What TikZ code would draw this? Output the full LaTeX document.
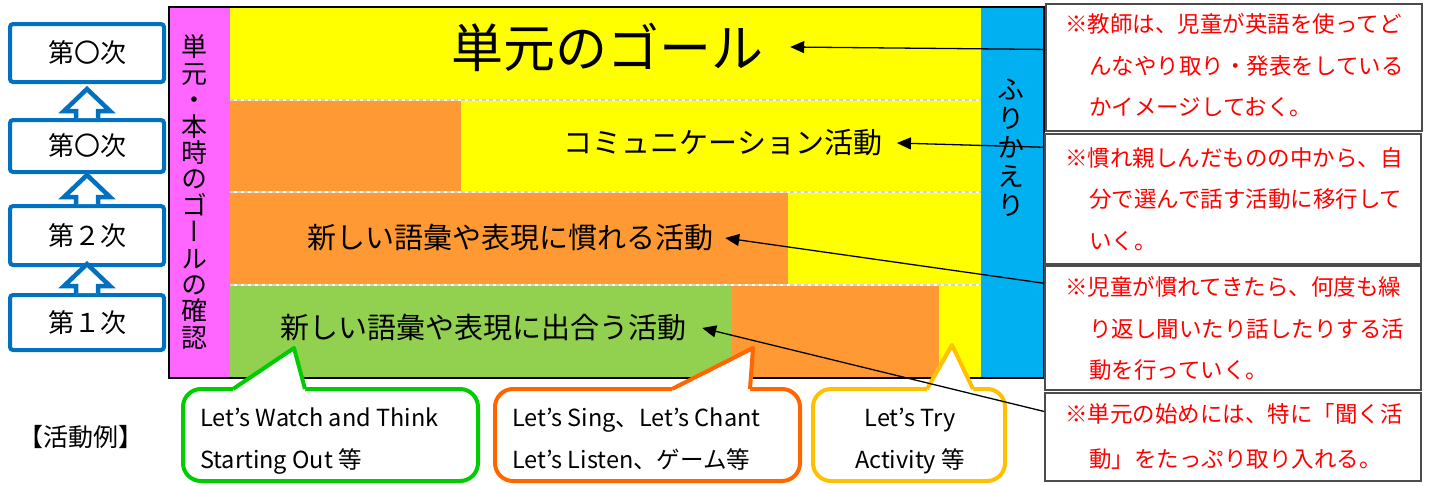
\documentclass[tikz,border=0pt]{standalone}
\usepackage{fontspec}
\newfontfamily\jp{Noto Sans CJK JP}
\newfontfamily\jpv[RawFeature=+vert]{Noto Sans CJK JP}
\usetikzlibrary{arrows.meta,calc}
\definecolor{cyel}{RGB}{255,255,0}
\definecolor{corg}{RGB}{255,153,51}
\definecolor{cgrn}{RGB}{146,208,80}
\definecolor{cmag}{RGB}{255,102,255}
\definecolor{cblu}{RGB}{0,176,240}
\definecolor{cbox}{RGB}{0,112,192}
\definecolor{cgline}{RGB}{0,204,0}
\definecolor{coline}{RGB}{255,102,0}
\definecolor{cyline}{RGB}{255,192,0}
\definecolor{cred}{RGB}{255,0,0}
\newcommand\myblkarrow[1]{%
  \draw[barrow] ($(#1.north)+(-11,0)$) -- ++(0,-7) -- ++(-12,0) -- ++(23,-22) -- ++(23,22) -- ++(-12,0) -- ++(0,7);}
\newcommand\mycallout[9]{%
  % #1 color, #2 x1, #3 y1, #4 x2, #5 y2, #6 base left x, #7 tip x, #8 tip y, #9 base right x
  \draw[calloutbox, draw=#1] (#2,#3) rectangle (#4,#5);
  \fill[white] (#6,#3+4) -- (#6,#3) -- (#7,#8) -- (#9,#3) -- (#9,#3+4) -- cycle;
  \draw[calloutside, draw=#1] (#6,#3) -- (#7,#8) -- (#9,#3);}
\begin{document}
\begin{tikzpicture}[x=1pt,y=-1pt,
  stagebox/.style={draw=cbox, line width=4pt, rounded corners=3pt, fill=white,
    minimum width=154pt, font=\jp\fontsize{26}{26}\selectfont},
  barrow/.style={draw=cbox, line width=4.5pt, fill=white, line join=miter},
  calloutbox/.style={line width=4pt, fill=white, rounded corners=18pt},
  calloutside/.style={line width=4pt, line join=round},
  rowsep/.style={draw=gray!35, line width=2.5pt, dash pattern=on 4pt off 3pt},
  conn/.style={draw=black, line width=1.3pt, -{Triangle[length=14pt,width=12pt]}},
  notebox/.style={draw=black!70, line width=2pt, fill=white, minimum width=376pt},
  notetxt/.style={text=cred, font=\jp\fontsize{22.5}{22.5}\selectfont, inner sep=0pt, anchor=west},
  cotxt/.style={font=\jp\fontsize{23.5}{42}\selectfont, inner sep=0pt},
  acttxt/.style={font=\jp\fontsize{29}{29}\selectfont, inner ysep=3pt}
]
\useasboundingbox (0,0) rectangle (1429,485);
\fill[white] (0,0) rectangle (1429,485);

% left stage boxes
\node[stagebox, minimum height=58pt] (b1) at (87,53) {第〇次};
\node[stagebox, minimum height=52pt] (b2) at (87,146) {第〇次};
\node[stagebox, minimum height=59pt] (b3) at (87,235.5) {第２次};
\node[stagebox, minimum height=55pt] (b4) at (87,322.5) {第１次};
\myblkarrow{b2}
\myblkarrow{b3}
\myblkarrow{b4}
\node[font=\jp\fontsize{25}{25}\selectfont] (rei) at (81,437) {【活動例】};

% main frame fills
\fill[cmag] (169,7) rectangle (230,378);
\fill[cblu] (981,7) rectangle (1044,378);
\fill[cyel] (230,7) rectangle (981,100);
\fill[corg] (230,100) rectangle (461,192);
\fill[cyel] (461,100) rectangle (981,192);
\fill[corg] (230,192) rectangle (788,285);
\fill[cyel] (788,192) rectangle (981,285);
\fill[cgrn] (230,285) rectangle (732,378);
\fill[corg] (732,285) rectangle (939,378);
\fill[cyel] (939,285) rectangle (981,378);
\foreach \yy in {100,192,285} {
  \draw[white, line width=2.5pt] (230,\yy) -- (981,\yy);
  \draw[rowsep] (230,\yy) -- (981,\yy);
}
\draw[black, line width=2.5pt] (169,7) rectangle (1044,378);

% vertical labels
\node[font=\jpv\fontsize{26}{26.4}\selectfont, align=center, inner sep=0pt] (vt) at (194,192)
  {単\\元\\・\\本\\時\\の\\ゴ\\ー\\ル\\の\\確\\認};
\node[font=\jpv\fontsize{27}{29}\selectfont, align=center, inner sep=0pt] (fk) at (1011,148)
  {ふ\\り\\か\\え\\り};

% row texts
\node[font=\jp\fontsize{52}{52}\selectfont, inner xsep=27pt] (goal) at (607,47) {単元のゴール};
\node[acttxt, inner xsep=14.5pt] (comm) at (723,143) {コミュニケーション活動};
\node[acttxt, inner xsep=12pt] (nare) at (510,238) {新しい語彙や表現に慣れる活動};
\node[acttxt, inner xsep=16pt] (deau) at (483,328) {新しい語彙や表現に出合う活動};

% callouts
\mycallout{cgline}{183}{389}{478}{481}{233}{294}{348}{305}
\mycallout{coline}{495}{389}{800}{481}{672}{753}{348}{750}
\mycallout{cyline}{813}{389}{1005}{481}{927}{952}{345}{973}
\node[cotxt, align=left, anchor=west] (cg) at (200,441) {Let’s Watch and Think\\Starting Out 等};
\node[cotxt, align=left, anchor=west] (co) at (512,439) {Let’s Sing、Let’s Chant\\Let’s Listen、ゲーム等};
\node[cotxt, align=center] (cy) at (910,441) {Let’s Try\\Activity 等};

% notes
\node[notebox, minimum height=127pt] (n1) at (1234,67.5) {};
\node[notebox, minimum height=130pt] (n2) at (1233,199) {};
\node[notebox, minimum height=124pt] (n3) at (1233,328) {};
\node[notebox, minimum height=88pt] (n4) at (1233,437) {};
\node[notetxt] (n1a) at (1065,24) {※教師は、児童が英語を使ってど};
\node[notetxt] (n1b) at (1089,66) {んなやり取り・発表をしている};
\node[notetxt] (n1c) at (1089,107) {かイメージしておく。};
\node[notetxt] (n2a) at (1065,158) {※慣れ親しんだものの中から、自};
\node[notetxt] (n2b) at (1089,199) {分で選んで話す活動に移行して};
\node[notetxt] (n2c) at (1089,241) {いく。};
\node[notetxt] (n3a) at (1065,287) {※児童が慣れてきたら、何度も繰};
\node[notetxt] (n3b) at (1089,329) {り返し聞いたり話したりする活};
\node[notetxt] (n3c) at (1089,370) {動を行っていく。};
\node[notetxt] (n4a) at (1065,414) {※単元の始めには、特に「聞く活};
\node[notetxt] (n4b) at (1089,459) {動」をたっぷり取り入れる。};

% connectors
\draw[conn] ($(n1.north west)!0.36!(n1.south west)$) -- (goal.east);
\draw[conn] ($(n2.north west)!0.108!(n2.south west)$) -- (comm.east);
\draw[conn] ($(n3.north west)!0.145!(n3.south west)$) -- (nare.east);
\draw[conn] ($(n4.north west)!0.216!(n4.south west)$) -- (deau.east);
\end{tikzpicture}
\end{document}
